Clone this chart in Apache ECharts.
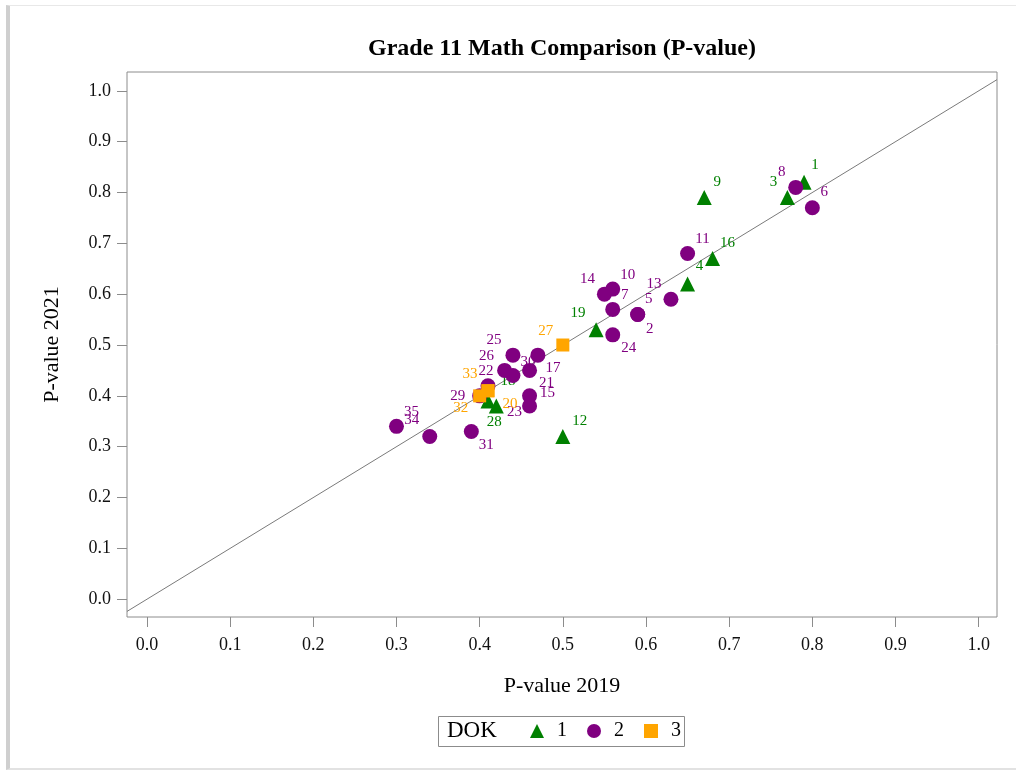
<!DOCTYPE html>
<html><head><meta charset="utf-8">
<script src="https://cdn.jsdelivr.net/npm/echarts@6/dist/echarts.min.js"></script>
<style>
html,body{margin:0;padding:0;background:#fff;}
#frame{position:absolute;left:6px;top:5px;width:1010px;height:765px;border-left:4px solid #cfcfcf;border-top:1px solid #e8e8e8;border-bottom:2px solid #e2e2e2;box-sizing:border-box;}
#chart{position:absolute;left:0;top:0;width:1016px;height:772px;}
</style>
</head><body><div id="frame"></div><div id="chart"></div>
<script>
// ---- data ----
const xTicks = [0.0,0.1,0.2,0.3,0.4,0.5,0.6,0.7,0.8,0.9,1.0];
const yTicks = [0.0,0.1,0.2,0.3,0.4,0.5,0.6,0.7,0.8,0.9,1.0];

const dok1Ids = [1,3,4,9,12,16,18,19,28];
const dok1X   = [0.79,0.77,0.65,0.67,0.50,0.68,0.41,0.54,0.42];
const dok1Y   = [0.82,0.79,0.62,0.79,0.32,0.67,0.39,0.53,0.38];

const dok2Ids = [2,5,6,7,8,10,11,13,14,15,17,21,22,23,24,25,26,29,30,31,34,35];
const dok2X   = [0.59,0.59,0.80,0.56,0.78,0.56,0.65,0.63,0.55,0.46,0.47,0.46,0.41,0.46,0.56,0.44,0.43,0.40,0.44,0.39,0.34,0.30];
const dok2Y   = [0.56,0.56,0.77,0.57,0.81,0.61,0.68,0.59,0.60,0.38,0.48,0.45,0.42,0.40,0.52,0.48,0.45,0.40,0.44,0.33,0.32,0.34];

const dok3Ids = [20,27,32,33];
const dok3X   = [0.41,0.50,0.40,0.41];
const dok3Y   = [0.41,0.50,0.40,0.41];

// ---- label placement (pixel offsets of the item-number labels) ----
const labelOffsets = {
  1:[11,-17], 3:[-14,-16], 4:[12,-18], 9:[13,-16], 12:[17,-15], 16:[15,-16], 18:[20,-20], 19:[-18,-17], 28:[-2,16],
  2:[12,15], 5:[11,-15], 6:[12,-16], 7:[12,-14], 8:[-14,-15], 10:[15,-14], 11:[15,-14], 13:[-17,-15], 14:[-17,-15],
  15:[18,-13], 17:[15,13], 21:[17,13], 22:[-2,-15], 23:[-15,16], 24:[16,13], 25:[-19,-15], 26:[-18,-14], 29:[-22,0],
  30:[15,-13], 31:[15,14], 34:[-18,-16], 35:[15,-14],
  20:[22,13], 27:[-17,-14], 32:[-19,12], 33:[-18,-17]
};

const xMin = -0.024, xMax = 1.022, yMin = -0.035, yMax = 1.037;
const serif = 'Liberation Serif, DejaVu Serif, serif';
const COL1 = '#008000', COL2 = '#800080', COL3 = '#FFA500';

function build(ids, xs, ys){
  return ids.map((id,i)=>({value:[xs[i], ys[i], id], label:{offset: labelOffsets[id] || [12,-14]}}));
}
function scatter(name, ids, xs, ys, symbol, size, color, z){
  return {
    name, type:'scatter', symbol, symbolSize:size, z,
    itemStyle:{color, opacity:1},
    data: build(ids, xs, ys),
    label:{show:true, position:'inside', formatter:p=>String(p.value[2]),
      color, fontFamily:serif, fontSize:15},
    emphasis:{disabled:true}, silent:true
  };
}

const chart = echarts.init(document.getElementById('chart'), null, {renderer:'canvas'});
chart.setOption({
  animation:false,
  backgroundColor:'transparent',
  title:{text:'Grade 11 Math Comparison (P-value)', left:557, top:32, textAlign:'center',
    textStyle:{fontFamily:serif, fontWeight:'bold', fontSize:24, color:'#000'}},
  grid:{left:127, right:19, top:72, bottom:155, show:true, borderColor:'#8c8c8c', borderWidth:1, backgroundColor:'transparent'},
  xAxis:{type:'value', min:xMin, max:xMax,
    name:'P-value 2019', nameLocation:'middle', nameGap:58,
    nameTextStyle:{fontFamily:serif, fontSize:22, color:'#000'},
    axisLine:{show:false, onZero:false},
    axisTick:{show:true, length:10, customValues:xTicks, lineStyle:{color:'#8c8c8c'}},
    axisLabel:{customValues:xTicks, formatter:v=>v.toFixed(1), margin:19, fontFamily:serif, fontSize:18, color:'#111'},
    splitLine:{show:false}},
  yAxis:{type:'value', min:yMin, max:yMax,
    name:'P-value 2021', nameLocation:'middle', nameGap:64,
    nameTextStyle:{fontFamily:serif, fontSize:22, color:'#000'},
    axisLine:{show:false, onZero:false},
    axisTick:{show:true, length:10, customValues:yTicks, lineStyle:{color:'#8c8c8c'}},
    axisLabel:{customValues:yTicks, formatter:v=>v.toFixed(1), margin:16, fontFamily:serif, fontSize:18, color:'#111'},
    splitLine:{show:false}},
  legend:{data:[{name:'1', icon:'triangle'},{name:'2', icon:'circle'},{name:'3', icon:'rect'}],
    left:530, top:721, padding:0, itemWidth:14, itemHeight:14, itemGap:20, z:10,
    selectedMode:false,
    textStyle:{fontFamily:serif, fontSize:20, color:'#000', padding:[0,0,0,8]}},
  graphic:[
    {type:'rect', left:438, top:716, z:1, shape:{width:246, height:30}, style:{fill:'#fff', stroke:'#8c8c8c', lineWidth:1}},
    {type:'text', left:447, top:719, z:2, style:{text:'DOK', font:'23px '+serif, fill:'#000'}}
  ],
  series:[
    {name:'ref', type:'line', data:[[xMin,xMin],[xMax,xMax]], symbol:'none', silent:true, z:1,
      lineStyle:{color:'#7a7a7a', width:1}, emphasis:{disabled:true}},
    scatter('1', dok1Ids, dok1X, dok1Y, 'triangle', 15, COL1, 2),
    scatter('2', dok2Ids, dok2X, dok2Y, 'circle', 15, COL2, 3),
    scatter('3', dok3Ids, dok3X, dok3Y, 'rect', 13, COL3, 4)
  ]
});
</script>
</body></html>
